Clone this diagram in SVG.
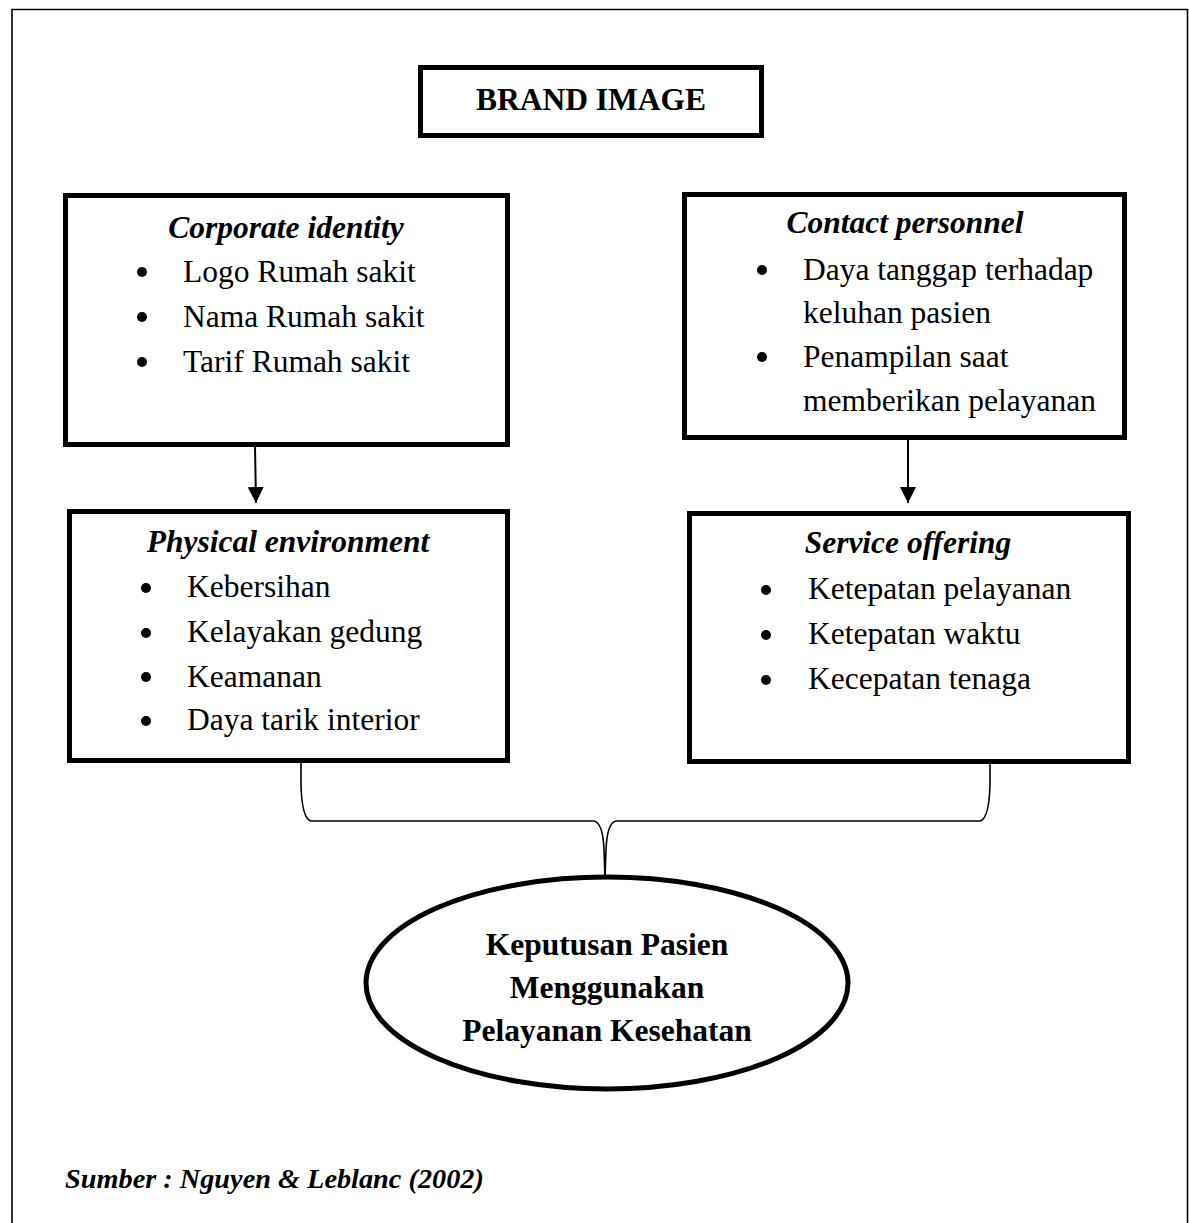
<svg xmlns="http://www.w3.org/2000/svg" width="1189" height="1223" viewBox="0 0 1189 1223">
<defs>
<style>
.box{fill:#fff;stroke:#000;stroke-width:5}
.t{font-family:"Liberation Serif","Times New Roman",serif;font-size:31.5px;fill:#000}
.ti{font-weight:bold;font-style:italic;text-anchor:middle}
.b{font-weight:bold;text-anchor:middle}
.conn{fill:none;stroke:#000;stroke-width:2}
.brace{fill:none;stroke:#000;stroke-width:1.6}
</style>
<marker id="arr" markerWidth="16" markerHeight="16" refX="16" refY="8" orient="auto" markerUnits="userSpaceOnUse" viewBox="0 0 16 16">
<path d="M0,0 L16,8 L0,16 Z" fill="#000"/>
</marker>
</defs>
<rect width="1189" height="1223" fill="#fff"/>
<path d="M12,1223 L12,9.5 L1187.5,9.5 L1187.5,1223" fill="none" stroke="#000" stroke-width="1.6"/>

<g id="brand-image">
<rect class="box" x="420.5" y="67.5" width="341" height="68"/>
<text class="t b" x="591" y="110">BRAND IMAGE</text>
</g>

<g id="corporate-identity">
<rect class="box" x="65.5" y="195.5" width="442" height="249"/>
<text class="t ti" x="286" y="238">Corporate identity</text>
<circle cx="142" cy="272" r="5"/><text class="t" x="183" y="282">Logo Rumah sakit</text>
<circle cx="142" cy="317" r="5"/><text class="t" x="183" y="327">Nama Rumah sakit</text>
<circle cx="142" cy="362" r="5"/><text class="t" x="183" y="372">Tarif Rumah sakit</text>
</g>

<g id="contact-personnel">
<rect class="box" x="684.5" y="194.5" width="440" height="243"/>
<text class="t ti" x="905" y="233">Contact personnel</text>
<circle cx="762" cy="270" r="5"/><text class="t" x="803" y="280">Daya tanggap terhadap</text>
<text class="t" x="803" y="323">keluhan pasien</text>
<circle cx="762" cy="357" r="5"/><text class="t" x="803" y="367">Penampilan saat</text>
<text class="t" x="803" y="411">memberikan pelayanan</text>
</g>

<g id="physical-environment">
<rect class="box" x="69.5" y="511.5" width="438" height="249"/>
<text class="t ti" x="288" y="552">Physical environment</text>
<circle cx="146" cy="588" r="5"/><text class="t" x="187" y="597">Kebersihan</text>
<circle cx="146" cy="633" r="5"/><text class="t" x="187" y="642">Kelayakan gedung</text>
<circle cx="146" cy="677" r="5"/><text class="t" x="187" y="687">Keamanan</text>
<circle cx="146" cy="721" r="5"/><text class="t" x="187" y="730">Daya tarik interior</text>
</g>

<g id="service-offering">
<rect class="box" x="689.5" y="513.5" width="439" height="248"/>
<text class="t ti" x="908" y="553">Service offering</text>
<circle cx="766" cy="590" r="5"/><text class="t" x="808" y="599">Ketepatan pelayanan</text>
<circle cx="766" cy="635" r="5"/><text class="t" x="808" y="644">Ketepatan waktu</text>
<circle cx="766" cy="680" r="5"/><text class="t" x="808" y="689">Kecepatan tenaga</text>
</g>

<g id="keputusan">
<ellipse cx="607" cy="983" rx="241" ry="106" fill="#fff" stroke="#000" stroke-width="5"/>
<text class="t b" x="607" y="955">Keputusan Pasien</text>
<text class="t b" x="607" y="998">Menggunakan</text>
<text class="t b" x="607" y="1041">Pelayanan Kesehatan</text>
</g>

<g id="connectors">
<line class="conn" x1="255" y1="447" x2="256" y2="503" marker-end="url(#arr)"/>
<line class="conn" x1="908" y1="440" x2="908" y2="503" marker-end="url(#arr)"/>
<path class="brace" d="M301,763 L301,785 Q302,819 311,821 L594,821 Q603,823 604,850 L605,878"/>
<path class="brace" d="M605,878 L606,850 Q607,823 616,821 L980,821 Q989,819 990,785 L990,763"/>
</g>

<text class="t" x="65" y="1188" style="font-weight:bold;font-style:italic;font-size:28.3px">Sumber : Nguyen &amp; Leblanc (2002)</text>
</svg>
